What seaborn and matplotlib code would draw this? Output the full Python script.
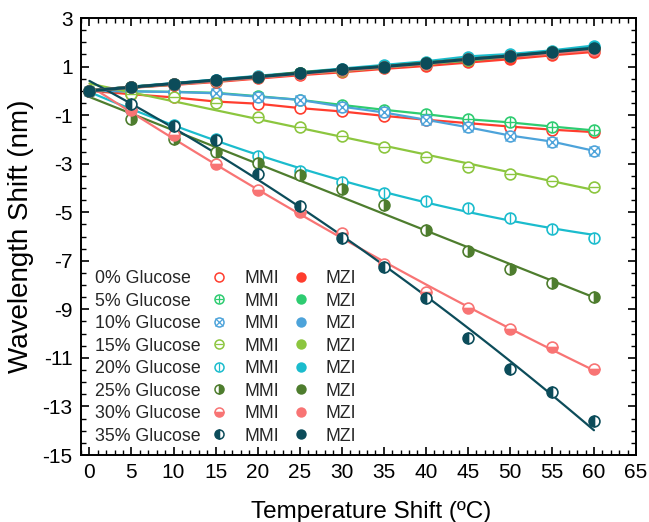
import numpy as np
import pandas as pd
import matplotlib
matplotlib.use("Agg")
import matplotlib.pyplot as plt
import seaborn as sns
from matplotlib.lines import Line2D
from matplotlib.legend_handler import HandlerTuple
from matplotlib.ticker import MultipleLocator

# ---------------- data ----------------
temperature = [0, 5, 10, 15, 20, 25, 30, 35, 40, 45, 50, 55, 60]
glucose = ["0% Glucose", "5% Glucose", "10% Glucose", "15% Glucose",
           "20% Glucose", "25% Glucose", "30% Glucose", "35% Glucose"]

mmi_0 = [0, -0.14, -0.27, -0.44, -0.53, -0.71, -0.85, -1.03, -1.19, -1.33, -1.47, -1.60, -1.70]
mmi_5 = [0, -0.02, -0.04, -0.08, -0.22, -0.37, -0.58, -0.78, -0.96, -1.17, -1.30, -1.47, -1.63]
mmi_10 = [0, -0.02, -0.05, -0.10, -0.24, -0.37, -0.65, -0.89, -1.19, -1.50, -1.84, -2.09, -2.47]
mmi_15 = [0, -0.12, -0.26, -0.51, -1.08, -1.47, -1.87, -2.32, -2.73, -3.12, -3.43, -3.71, -3.98]
mmi_20 = [0, -0.78, -1.40, -2.00, -2.68, -3.30, -3.75, -4.22, -4.52, -4.83, -5.24, -5.68, -6.05]
mmi_25 = [0, -1.17, -1.98, -2.50, -2.98, -3.46, -4.05, -4.72, -5.72, -6.58, -7.33, -7.92, -8.51]
mmi_30 = [0, -0.80, -1.80, -3.01, -4.08, -5.00, -5.86, -7.13, -8.27, -8.95, -9.80, -10.57, -11.45]
mmi_35 = [0, -0.54, -1.44, -2.02, -3.42, -4.73, -6.07, -7.24, -8.54, -10.19, -11.46, -12.41, -13.59]

mzi_0 = [0, 0.14, 0.26, 0.38, 0.52, 0.66, 0.78, 0.92, 1.04, 1.18, 1.32, 1.48, 1.62]
mzi_5 = [0, 0.15, 0.28, 0.42, 0.56, 0.72, 0.84, 0.98, 1.12, 1.26, 1.42, 1.56, 1.72]
mzi_10 = [0, 0.15, 0.29, 0.44, 0.58, 0.72, 0.86, 1.02, 1.16, 1.36, 1.46, 1.60, 1.78]
mzi_15 = [0, 0.15, 0.28, 0.42, 0.56, 0.72, 0.83, 0.98, 1.12, 1.28, 1.43, 1.58, 1.74]
mzi_20 = [0, 0.16, 0.30, 0.45, 0.60, 0.75, 0.90, 1.05, 1.20, 1.40, 1.50, 1.65, 1.85]
mzi_25 = [0, 0.15, 0.28, 0.42, 0.57, 0.75, 0.86, 1.00, 1.15, 1.30, 1.44, 1.58, 1.72]
mzi_30 = [0, 0.15, 0.27, 0.41, 0.55, 0.70, 0.84, 0.98, 1.12, 1.30, 1.42, 1.55, 1.70]
mzi_35 = [0, 0.15, 0.30, 0.44, 0.58, 0.72, 0.88, 1.00, 1.14, 1.30, 1.44, 1.60, 1.76]

x_ticks = [0, 5, 10, 15, 20, 25, 30, 35, 40, 45, 50, 55, 60, 65]
y_ticks = [-15, -13, -11, -9, -7, -5, -3, -1, 1, 3]

# ---------------- styles ----------------
colors = ["#FF3D2E", "#2ECC71", "#4DA3DA", "#8CC63F",
          "#1BBCCD", "#4E7D2E", "#F87474", "#0C4C5A"]
# (fillstyle, overlay symbol) for MMI markers
mmi_styles = [("none", None), ("none", "+"), ("none", "x"), ("none", "_"),
              ("none", "|"), ("right", None), ("bottom", None), ("left", None)]
fit_order = [0, 0, 0, 1, 2, 1, 2, 2]   # 0 -> connect points

mmi_all = [mmi_0, mmi_5, mmi_10, mmi_15, mmi_20, mmi_25, mmi_30, mmi_35]
mzi_all = [mzi_0, mzi_5, mzi_10, mzi_15, mzi_20, mzi_25, mzi_30, mzi_35]

sns.set_theme(style="ticks")
plt.rcParams["font.family"] = ["Liberation Sans", "DejaVu Sans"]
plt.rcParams["axes.unicode_minus"] = False

W, H = 649, 522
fig = plt.figure(figsize=(W / 100, H / 100), dpi=100)
ax = fig.add_axes([81 / W, 1 - 455 / H, 555 / W, 437 / H])

MS = 7.8
MEW = 1.2

# ---- MMI series ----
for i in range(8):
    c = colors[i]
    y = mmi_all[i]
    if fit_order[i] == 0:
        sns.lineplot(x=temperature, y=y, color=c, lw=1.6, ax=ax,
                     estimator=None, sort=False, zorder=2)
    else:
        sns.regplot(x=temperature, y=y, order=fit_order[i], ci=None,
                    scatter=False, ax=ax, truncate=True,
                    line_kws=dict(color=c, lw=1.6, zorder=2))
    fs, sym = mmi_styles[i]
    if fs == "none":
        ax.plot(temperature, y, ls="none", marker="o", ms=MS, mfc="white",
                mec=c, mew=MEW, zorder=3)
    else:
        ax.plot(temperature, y, ls="none", marker="o", ms=MS, fillstyle=fs,
                mfc=c, markerfacecoloralt="white", mec=c, mew=MEW, zorder=3)
    if sym is not None:
        ax.plot(temperature, y, ls="none", marker=sym, ms=MS * 0.95,
                mec=c, mew=1.0, zorder=3)

# ---- MZI series ----
mzi_df = pd.DataFrame({
    "T": temperature * 8,
    "shift": np.concatenate(mzi_all),
    "glucose": np.repeat(glucose, len(temperature)),
})
sns.lineplot(data=mzi_df, x="T", y="shift", hue="glucose", hue_order=glucose,
             palette=colors, lw=2.2, legend=False, ax=ax, estimator=None,
             zorder=4)
for i in range(8):
    ax.plot(temperature, mzi_all[i], ls="none", marker="o", ms=9,
            mfc=colors[i], mec=colors[i], mew=0, zorder=5)

# ---------------- axes ----------------
ax.set_xlim(-1, 65)
ax.set_ylim(-15, 3)
ax.set_xticks(x_ticks)
ax.set_yticks(y_ticks)
ax.xaxis.set_minor_locator(MultipleLocator(1))
ax.yaxis.set_minor_locator(MultipleLocator(0.5))
ax.tick_params(which="both", direction="in", top=True, right=True,
               colors="black", labelsize=15)
ax.tick_params(which="major", length=6, width=1.2, pad=6)
ax.tick_params(which="minor", length=3.5, width=1.0)
for s in ax.spines.values():
    s.set_linewidth(1.4)
    s.set_color("black")
ax.set_xlabel("Temperature Shift (ºC)", fontsize=17.5, labelpad=14, color="black")
ax.xaxis.set_label_coords((371 - 81) / 555, -0.105)
ax.set_ylabel("Wavelength Shift (nm)", fontsize=20, labelpad=6, color="black")

# ---------------- legend ----------------
fs_leg = 12.8
row_top = 1 - (270 - 18) / 437


def px2ax(px):
    return (px - 81) / 555


# column 1: text only
txt_handles = [Line2D([], [], ls="none") for _ in glucose]
leg1 = ax.legend(txt_handles, glucose, loc="upper left",
                 bbox_to_anchor=(px2ax(95), row_top), frameon=False,
                 fontsize=fs_leg, handlelength=0, handletextpad=0,
                 borderpad=0, borderaxespad=0, labelspacing=0.31)
ax.add_artist(leg1)

mmi_handles = []
for i in range(8):
    c = colors[i]
    fs, sym = mmi_styles[i]
    if fs == "none":
        base = Line2D([], [], ls="none", marker="o", ms=6.5, mfc="white",
                      mec=c, mew=1.1)
    else:
        base = Line2D([], [], ls="none", marker="o", ms=6.5, fillstyle=fs,
                      mfc=c, markerfacecoloralt="white", mec=c, mew=1.1)
    if sym is not None:
        over = Line2D([], [], ls="none", marker=sym, ms=6.2, mec=c, mew=0.9)
        mmi_handles.append((base, over))
    else:
        mmi_handles.append(base)

leg2 = ax.legend(mmi_handles, ["MMI"] * 8, loc="upper left",
                 bbox_to_anchor=(px2ax(210), row_top), frameon=False,
                 fontsize=fs_leg, handlelength=1.0, handletextpad=0.96,
                 borderpad=0, borderaxespad=0, labelspacing=0.31,
                 handler_map={tuple: HandlerTuple(ndivide=1)})
ax.add_artist(leg2)

mzi_handles = [Line2D([], [], ls="none", marker="o", ms=7.5, mfc=c, mec=c,
                      mew=0) for c in colors]
leg3 = ax.legend(mzi_handles, ["MZI"] * 8, loc="upper left",
                 bbox_to_anchor=(px2ax(292), row_top), frameon=False,
                 fontsize=fs_leg, handlelength=1.0, handletextpad=0.9,
                 borderpad=0, borderaxespad=0, labelspacing=0.31)

fig.savefig("out.png", dpi=100)
